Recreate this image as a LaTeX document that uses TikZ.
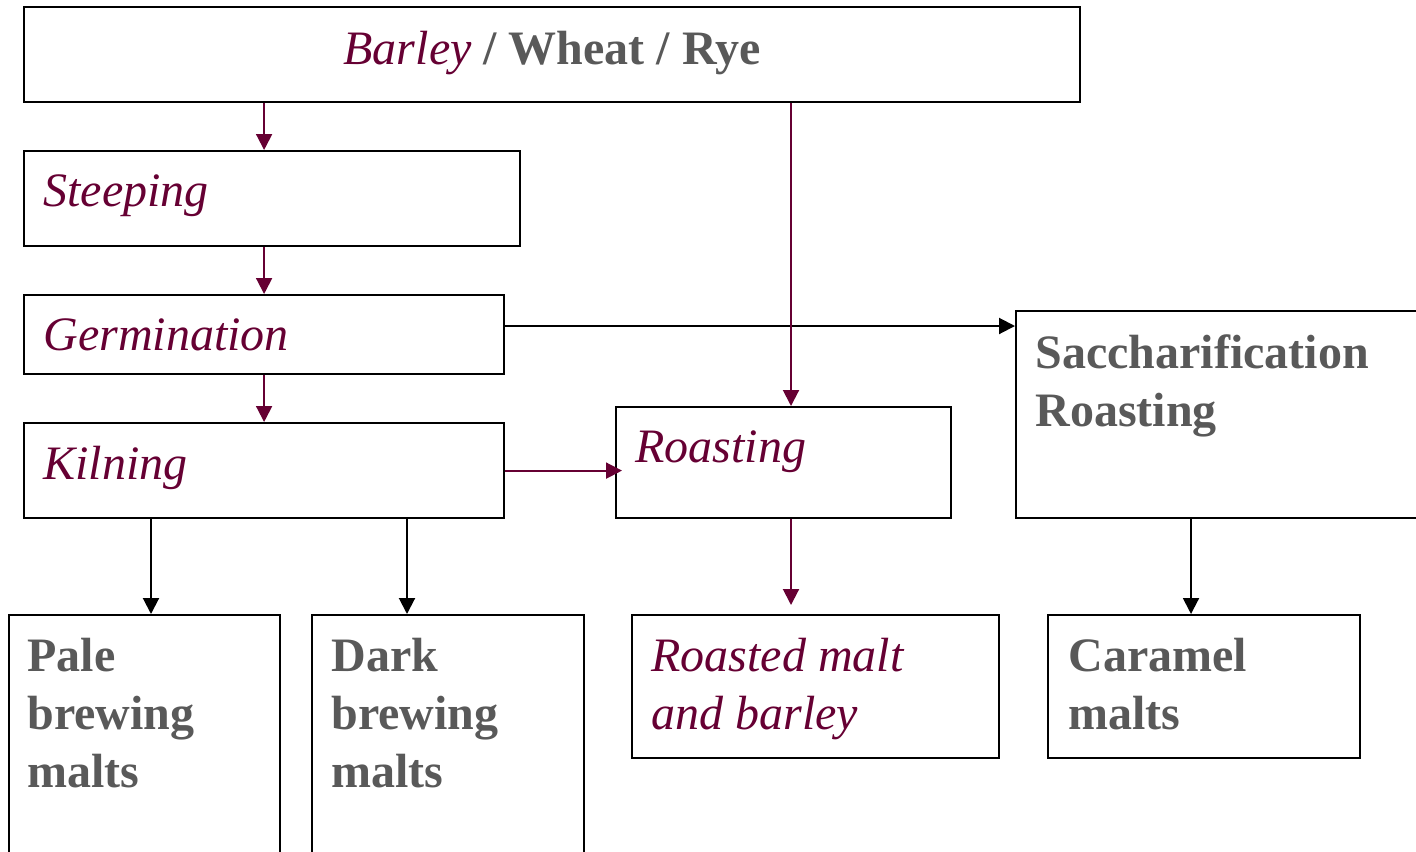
\documentclass[tikz,border=0pt]{standalone}
\usepackage{fontspec}
\setmainfont{Liberation Serif}
\usetikzlibrary{arrows.meta,calc}
\definecolor{maltred}{RGB}{102,0,51}
\definecolor{maltgray}{RGB}{89,89,89}

\begin{document}
\begin{tikzpicture}[x=0.5pt,y=-0.5pt,
	stage/.style={draw=black,line width=1.1pt,anchor=north west,inner sep=0pt},
	txt/.style={anchor=north west,inner sep=0pt,align=left},
	steptxt/.style={txt,text=maltred,font=\fontsize{24}{29}\selectfont\itshape},
	malttxt/.style={txt,text=maltgray,font=\fontsize{24}{29}\selectfont\bfseries},
	redflow/.style={draw=maltred,line width=1pt,-{Triangle[length=8pt,width=8pt]}},
	blackflow/.style={draw=black,line width=1pt,-{Triangle[length=8pt,width=8pt]}}]
			%%%%% START %%%%%
			
			\useasboundingbox (0,0) rectangle (1416,851);
			
			\node[stage,minimum width=528pt,minimum height=47.5pt] (grain) at (23,6) {};
			\node[stage,minimum width=248pt,minimum height=47.5pt] (steep) at (23,150) {};
			\node[stage,minimum width=240pt,minimum height=39.5pt] (germ) at (23,294) {};
			\node[stage,minimum width=240pt,minimum height=47.5pt] (kiln) at (23,422) {};
			\node[stage,minimum width=167.5pt,minimum height=55.5pt] (roast) at (615,406) {};
			\node[stage,minimum width=250pt,minimum height=103.5pt] (sacch) at (1015,310) {};
			
			\node[stage,minimum width=135.5pt,minimum height=150pt] (pale) at (8,614) {};
			\node[stage,minimum width=136pt,minimum height=150pt] (dark) at (311,614) {};
			\node[stage,minimum width=183.5pt,minimum height=71.5pt] (roasted) at (631,614) {};
			\node[stage,minimum width=156pt,minimum height=71.5pt] (caramel) at (1047,614) {};
			
			\node[malttxt,anchor=north] (grainname) at ($(grain.north)+(0,25)$) {{\mdseries\itshape\color{maltred}Barley} / Wheat / Rye};
			\node[steptxt] (steepname) at ($(steep.north west)+(20,24)$) {Steeping};
			\node[steptxt] (germname) at ($(germ.north west)+(20,24)$) {Germination};
			\node[steptxt] (kilnname) at ($(kiln.north west)+(20,24)$) {Kilning};
			\node[steptxt] (roastname) at ($(roast.north west)+(20,24)$) {Roasting};
			\node[malttxt] (sacchname) at ($(sacch.north west)+(20,24)$) {Saccharification\\Roasting};
			\node[malttxt] (palename) at ($(pale.north west)+(19,24)$) {Pale\\brewing\\malts};
			\node[malttxt] (darkname) at ($(dark.north west)+(20,24)$) {Dark\\brewing\\malts};
			\node[steptxt] (roastedname) at ($(roasted.north west)+(20,24)$) {Roasted malt\\and barley};
			\node[malttxt] (caramelname) at ($(caramel.north west)+(21,24)$) {Caramel\\malts};
			
			\coordinate (cRoast) at (791,0);
			\coordinate (cPale) at (151,0);
			\coordinate (cDark) at (407,0);
			\coordinate (cCaramel) at (1191,0);
			\coordinate (rGerm) at (0,326);
			
			\draw[blackflow] (germ.east |- rGerm) -- (sacch.west |- rGerm);
			\draw[blackflow] (kiln.south -| cPale) -- (pale.north -| cPale);
			\draw[blackflow] (kiln.south -| cDark) -- (dark.north -| cDark);
			\draw[blackflow] (sacch.south -| cCaramel) -- (caramel.north -| cCaramel);
			
			\draw[redflow] (grain.south -| germ.north) -- (steep.north -| germ.north);
			\draw[redflow] (steep.south -| germ.north) -- (germ.north);
			\draw[redflow] (germ.south) -- (kiln.north);
			\draw[redflow] (grain.south -| cRoast) -- (roast.north -| cRoast);
			\draw[redflow,shorten >=-3.5pt] (kiln.east) -- (kiln.east -| roast.west);
			\draw[redflow,shorten >=4.5pt] (roast.south -| cRoast) -- (roasted.north -| cRoast);
			
			%%%%% END %%%%%
\end{tikzpicture}
\end{document}
